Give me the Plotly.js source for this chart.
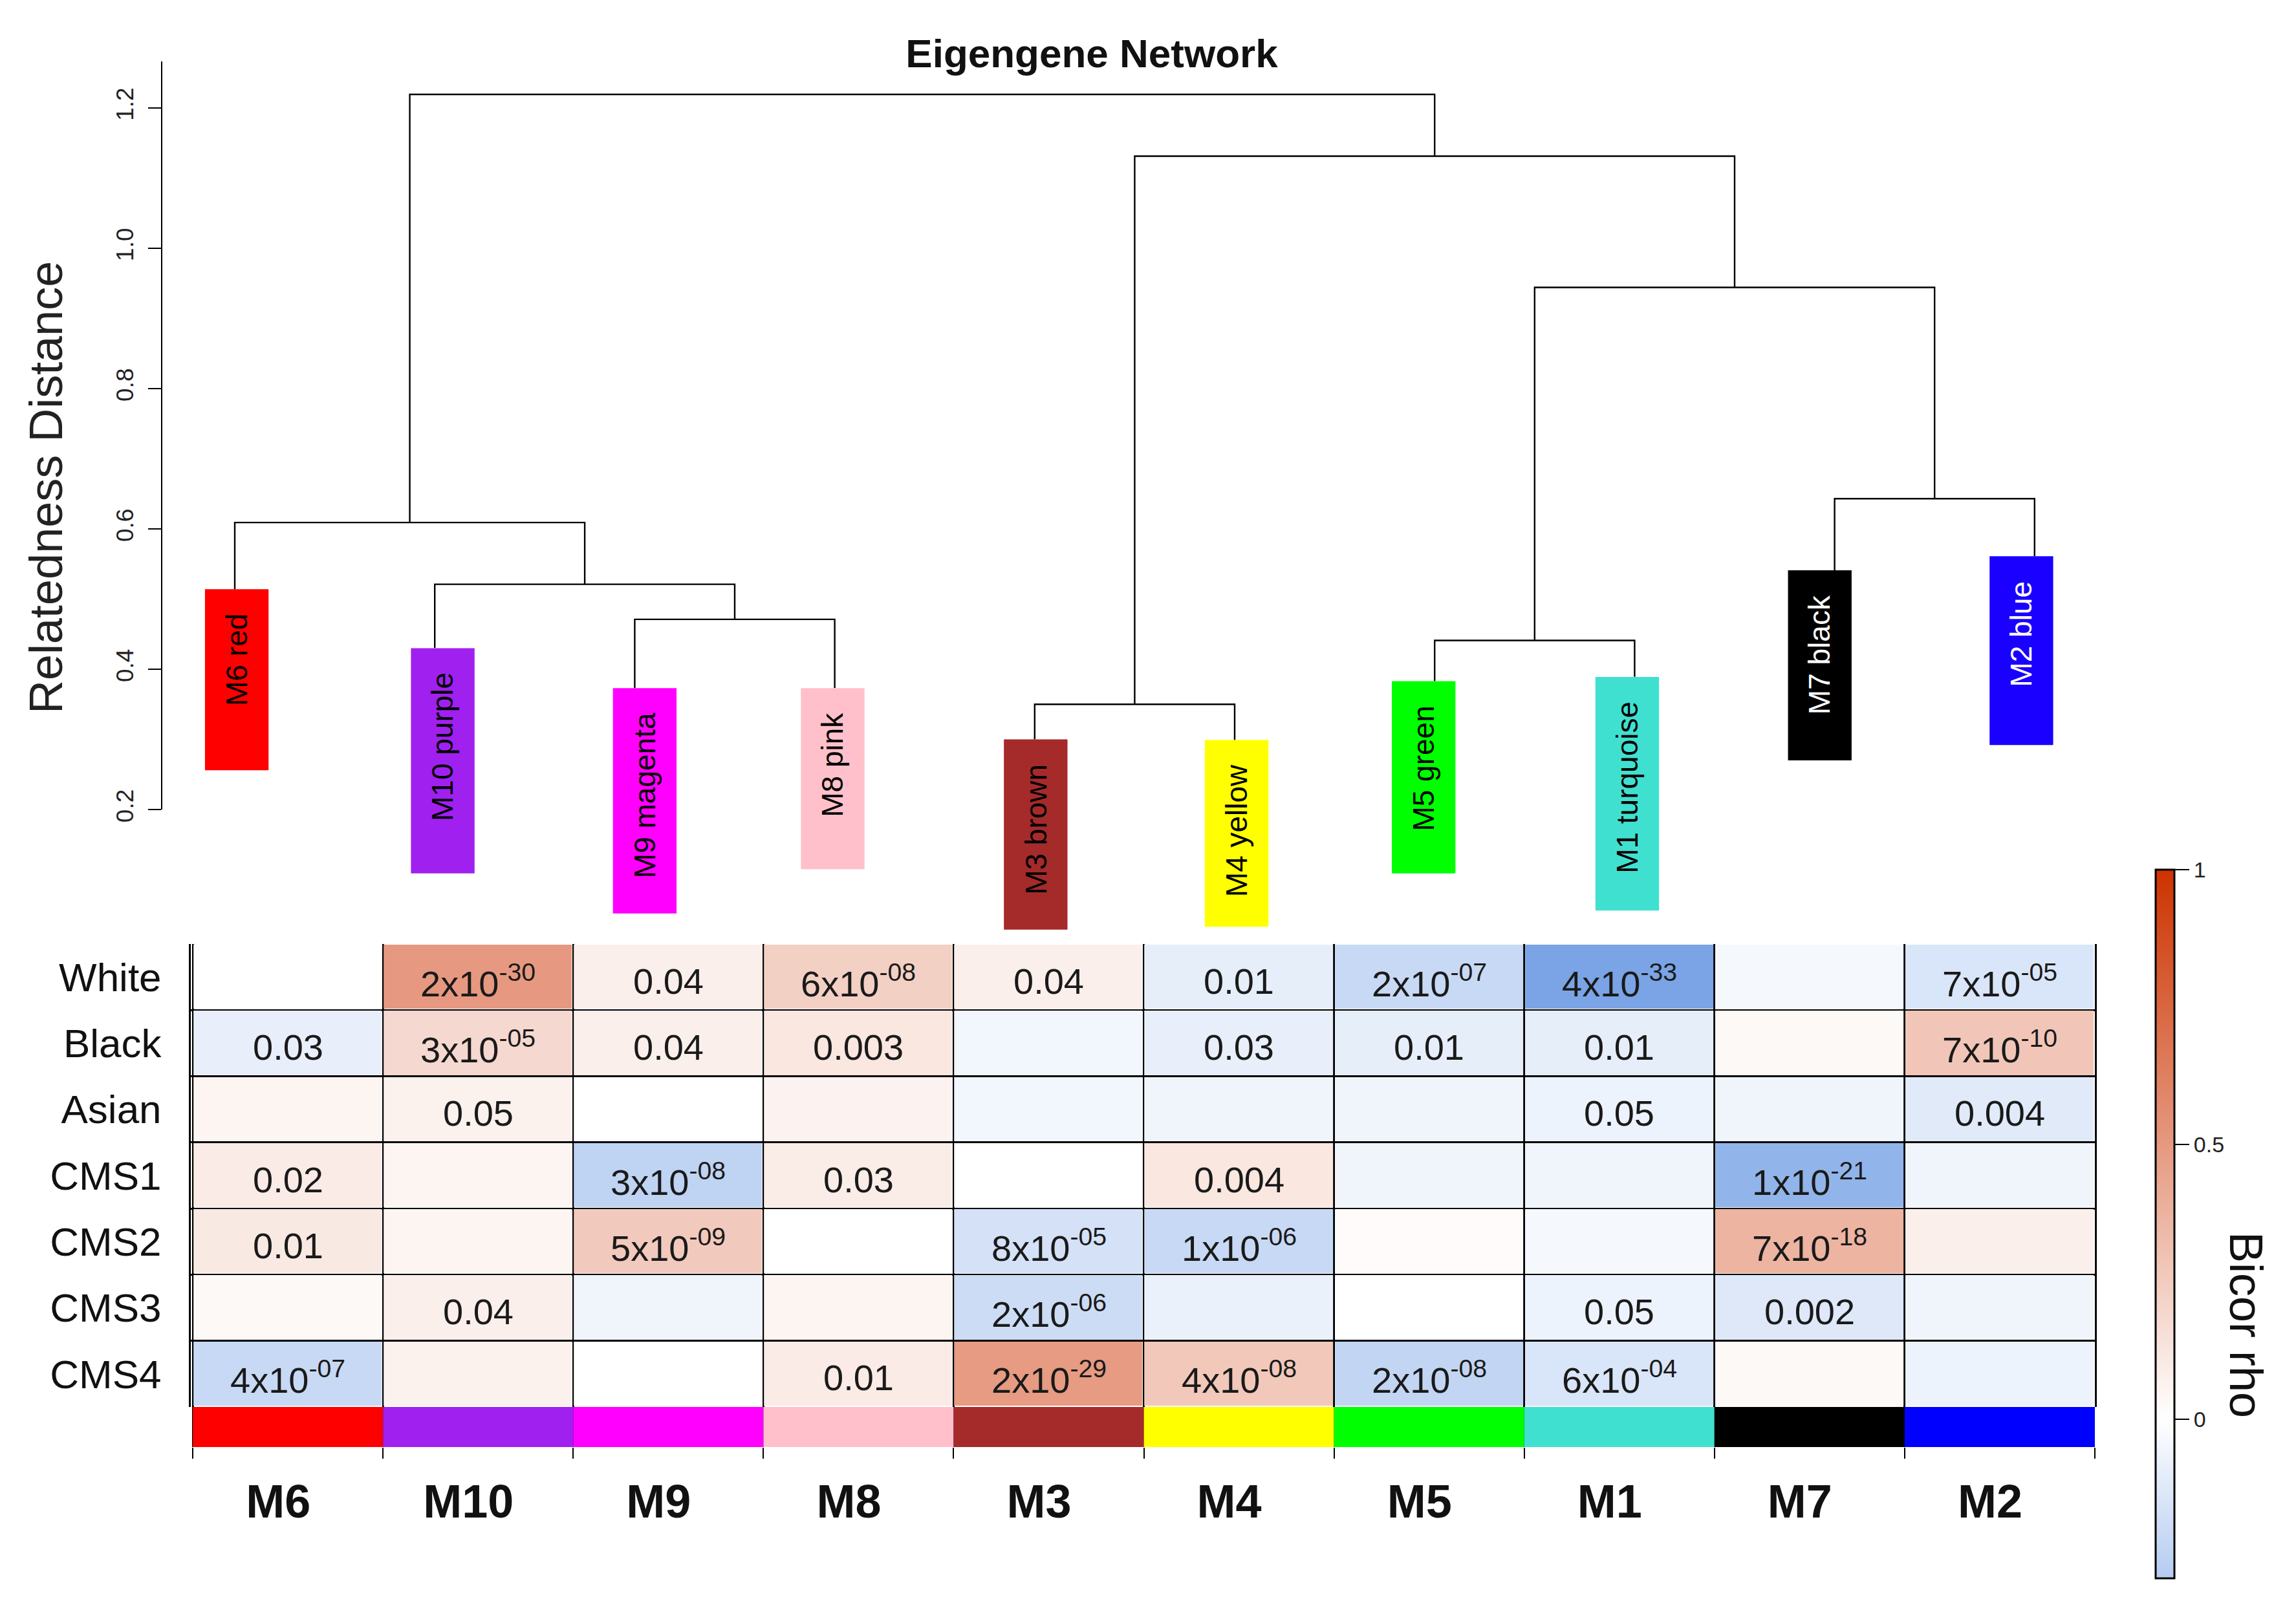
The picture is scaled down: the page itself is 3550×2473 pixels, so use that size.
<!DOCTYPE html>
<html><head><meta charset="utf-8">
<script src="https://cdn.plot.ly/plotly-3.0.1.min.js"></script>
<style>html,body{margin:0;padding:0;background:#fff}#chart{width:3550px;height:2473px}</style>
</head><body><div id="chart"></div>
<script>
// ---------------- DATA ----------------
const modules = ['M6','M10','M9','M8','M3','M4','M5','M1','M7','M2'];
const moduleNames = ['M6 red','M10 purple','M9 magenta','M8 pink','M3 brown','M4 yellow','M5 green','M1 turquoise','M7 black','M2 blue'];
const moduleColors = ['#FF0000','#A020F0','#FF00FF','#FFC0CB','#A52A2A','#FFFF00','#00FF00','#40E0D0','#000000','#1A00FF'];
const stripColors = ['#FF0000','#A020F0','#FF00FF','#FFC0CB','#A52A2A','#FFFF00','#00FF00','#40E0D0','#000000','#0000FF'];
const traits = ['White','Black','Asian','CMS1','CMS2','CMS3','CMS4'];

// dendrogram (hclust style): negative = leaf (1-based position in modules), positive = earlier merge (1-based)
const mergeA = [-3, -5, -7, -9, -2, -1, 3, 2, 6];
const mergeB = [-4, -6, -8, -10, 1, 5, 4, 7, 8];
const mergeHeight = [0.471, 0.350, 0.441, 0.643, 0.521, 0.609, 0.944, 1.131, 1.219];
// extent of the coloured label boxes (in distance units)
const boxTop    = [0.514, 0.430, 0.373, 0.373, 0.300, 0.299, 0.383, 0.389, 0.541, 0.561];
const boxBottom = [0.256, 0.109, 0.052, 0.115, 0.029, 0.033, 0.109, 0.056, 0.270, 0.292];
const distTicks = [0.2, 0.4, 0.6, 0.8, 1.0, 1.2];

// bicor rho (rows = traits, cols = modules)
const rhoWhite = [ 0.00,  0.50,  0.08,  0.23,  0.08, -0.10, -0.22, -0.52, -0.04, -0.15];
const rhoBlack = [-0.09,  0.19,  0.08,  0.12, -0.05, -0.09, -0.10, -0.10,  0.03,  0.28];
const rhoAsian = [ 0.05,  0.07,  0.00,  0.06, -0.05, -0.06, -0.06, -0.07, -0.06, -0.12];
const rhoCMS1  = [ 0.10,  0.05, -0.25,  0.09,  0.00,  0.12, -0.06, -0.06, -0.43, -0.06];
const rhoCMS2  = [ 0.11,  0.05,  0.26,  0.00, -0.17, -0.22,  0.02, -0.04,  0.37,  0.08];
const rhoCMS3  = [ 0.03,  0.08, -0.06,  0.05, -0.20, -0.08,  0.00, -0.07, -0.13, -0.06];
const rhoCMS4  = [-0.22,  0.07,  0.00,  0.10,  0.49,  0.27, -0.24, -0.15,  0.03, -0.07];

// p-values shown in the cells ('' = not shown)
const pWhite = ['', '2x10^-30', '0.04', '6x10^-08', '0.04', '0.01', '2x10^-07', '4x10^-33', '', '7x10^-05'];
const pBlack = ['0.03', '3x10^-05', '0.04', '0.003', '', '0.03', '0.01', '0.01', '', '7x10^-10'];
const pAsian = ['', '0.05', '', '', '', '', '', '0.05', '', '0.004'];
const pCMS1  = ['0.02', '', '3x10^-08', '0.03', '', '0.004', '', '', '1x10^-21', ''];
const pCMS2  = ['0.01', '', '5x10^-09', '', '8x10^-05', '1x10^-06', '', '', '7x10^-18', ''];
const pCMS3  = ['', '0.04', '', '', '2x10^-06', '', '', '0.05', '0.002', ''];
const pCMS4  = ['4x10^-07', '', '', '0.01', '2x10^-29', '4x10^-08', '2x10^-08', '6x10^-04', '', ''];

const cbTicks = [0, 0.5, 1];
const cbMin = -0.29;

// ---------------- STYLE ----------------
const W = 3550, H = 2473;
const FONT = 'Liberation Sans, Arial, Helvetica, sans-serif';
const px = v => v / W;
const py = v => 1 - v / H;
const BLUE_END = [0, 80, 205], WHITE = [255, 255, 255], RED_END = [204, 51, 0];
const boxDx = [0.01, 0.04, 0.05, -0.01, 0.005, 0.01, -0.055, -0.037, -0.074, -0.066];
const boxTextColor = ['#000','#000','#000','#000','#000','#000','#000','#000','#fff','#fff'];

function rgbStr(c){ return 'rgb(' + c.map(Math.round).join(',') + ')'; }
function colorAt(v){
  const t = Math.min(1, Math.abs(v));
  const end = v < 0 ? BLUE_END : RED_END;
  return rgbStr(WHITE.map((w, k) => w + (end[k] - w) * t));
}

// ---------------- DENDROGRAM GEOMETRY ----------------
const nodeX = [], nodeH = [];
function childPos(c){
  if (c < 0) return {x: -c - 1, h: boxTop[-c - 1]};
  return {x: nodeX[c - 1], h: nodeH[c - 1]};
}
const dx = [], dy = [];
for (let m = 0; m < mergeA.length; m++){
  const a = childPos(mergeA[m]), b = childPos(mergeB[m]);
  const h = mergeHeight[m];
  dx.push(a.x, a.x, b.x, b.x, null);
  dy.push(a.h, h, h, b.h, null);
  nodeX.push((a.x + b.x) / 2);
  nodeH.push(h);
}

const rho = [rhoWhite, rhoBlack, rhoAsian, rhoCMS1, rhoCMS2, rhoCMS3, rhoCMS4];
const pvals = [pWhite, pBlack, pAsian, pCMS1, pCMS2, pCMS3, pCMS4];

const traces = [];
traces.push({
  type: 'scatter', mode: 'lines', x: dx, y: dy, xaxis: 'x', yaxis: 'y',
  line: {color: '#000', width: 2.4}, hoverinfo: 'skip', showlegend: false
});
traces.push({
  type: 'bar', xaxis: 'x2', yaxis: 'y2',
  x: modules.map((m, i) => i + boxDx[i]),
  y: boxTop.map((t, i) => t - boxBottom[i]),
  base: boxBottom, width: 0.318,
  marker: {color: moduleColors, line: {width: 0}},
  hoverinfo: 'skip', showlegend: false
});
traces.push({
  type: 'heatmap', xaxis: 'x3', yaxis: 'y3',
  x: modules, y: traits, z: rho, zmin: -1, zmax: 1,
  colorscale: [[0, rgbStr(BLUE_END)], [0.5, rgbStr(WHITE)], [1, rgbStr(RED_END)]],
  xgap: 3, ygap: 3, showscale: false, hoverinfo: 'skip'
});
traces.push({
  type: 'bar', xaxis: 'x3', yaxis: 'y4',
  x: modules, y: modules.map(() => 1), width: 1,
  marker: {color: stripColors, line: {width: 0}},
  hoverinfo: 'skip', showlegend: false
});
const z0 = (0 - cbMin) / (1 - cbMin);
traces.push({
  type: 'scatter', mode: 'markers', xaxis: 'x3', yaxis: 'y3',
  x: [modules[0]], y: [traits[0]], hoverinfo: 'skip', showlegend: false,
  marker: {
    size: 1, opacity: 0, color: [0], cmin: cbMin, cmax: 1, showscale: true,
    colorscale: [[0, colorAt(cbMin)], [z0, rgbStr(WHITE)], [1, rgbStr(RED_END)]],
    colorbar: {
      x: px(3333), xanchor: 'left', xpad: 0, xref: 'paper',
      y: py(2441), yanchor: 'bottom', ypad: 0, yref: 'paper',
      len: (2441 - 1345) / H, lenmode: 'fraction', thickness: 29,
      outlinewidth: 3, outlinecolor: '#000',
      tickvals: cbTicks, ticktext: cbTicks.map(String),
      ticks: 'outside', ticklen: 22, tickwidth: 2, tickcolor: '#000',
      tickfont: {family: FONT, size: 34, color: '#222'},
      title: {text: ''}
    }
  }
});

// ---------------- ANNOTATIONS ----------------
const annotations = [];
modules.forEach((m, i) => {
  annotations.push({
    xref: 'x2', yref: 'y2', x: i + boxDx[i], y: boxTop[i], yshift: -36,
    xanchor: 'center', yanchor: 'top', textangle: -90, showarrow: false,
    text: moduleNames[i], font: {family: FONT, size: 46, color: boxTextColor[i]}
  });
});
function fmtP(s){
  const k = s.indexOf('^');
  return k < 0 ? s : s.slice(0, k) + '<sup>' + s.slice(k + 1) + '</sup>';
}
pvals.forEach((row, r) => row.forEach((s, c) => {
  if (!s) return;
  annotations.push({
    xref: 'x3', yref: 'y3', x: modules[c], y: traits[r], yshift: -6,
    showarrow: false, text: fmtP(s), font: {family: FONT, size: 56, color: '#1a1a1a'}
  });
}));
annotations.push({
  xref: 'paper', yref: 'paper', x: px(71), y: py(754), textangle: -90, showarrow: false,
  xanchor: 'center', yanchor: 'middle',
  text: 'Relatedness Distance', font: {family: FONT, size: 72, color: '#222'}
});
annotations.push({
  xref: 'paper', yref: 'paper', x: px(3473), y: py(2049), textangle: 90, showarrow: false,
  xanchor: 'center', yanchor: 'middle',
  text: 'Bicor rho', font: {family: FONT, size: 72, color: '#111'}
});

// ---------------- LAYOUT ----------------
const dendroX = {domain: [px(53.8), px(3455)], range: [-1, 10], visible: false, fixedrange: true};
const layout = {
  width: W, height: H, margin: {l: 0, r: 0, t: 0, b: 0},
  paper_bgcolor: '#fff', plot_bgcolor: 'rgba(0,0,0,0)', showlegend: false,
  font: {family: FONT, color: '#111'},
  title: {text: '<b>Eigengene Network</b>', x: px(1688), xanchor: 'center', xref: 'paper',
          y: py(82), yanchor: 'middle', yref: 'paper',
          font: {family: FONT, size: 62, color: '#111'}},
  xaxis: Object.assign({anchor: 'y'}, dendroX),
  yaxis: {domain: [py(1252), py(95)], range: [0.2, 1.266], anchor: 'free', position: px(250),
          showline: true, linecolor: '#000', linewidth: 2, ticks: 'outside', ticklen: 20,
          tickwidth: 2, tickcolor: '#000', tickvals: distTicks,
          ticktext: distTicks.map(v => v.toFixed(1)), tickangle: -90,
          tickfont: {family: FONT, size: 37, color: '#222'}, showgrid: false, zeroline: false,
          ticklabelstandoff: 8},
  xaxis2: Object.assign({anchor: 'y2'}, dendroX),
  yaxis2: {domain: [py(1469.1), py(817.9)], range: [0, 0.6], anchor: 'x2', visible: false},
  xaxis3: {domain: [px(295), px(3239)], anchor: 'y4', type: 'category',
           categoryorder: 'array', categoryarray: modules, tickson: 'boundaries',
           ticks: 'outside', ticklen: 17, tickwidth: 2, tickcolor: '#000',
           showgrid: true, gridcolor: '#000', gridwidth: 3, zeroline: false, showline: false,
           tickfont: {family: FONT, size: 72, color: '#111', weight: 'bold'},
           ticklabelstandoff: 36, ticklabelshift: -15},
  yaxis3: {domain: [py(2176), py(1460)], anchor: 'x3', type: 'category',
           categoryorder: 'array', categoryarray: traits, autorange: 'reversed',
           tickson: 'boundaries', ticks: '', showgrid: true, gridcolor: '#000', gridwidth: 3,
           showline: true, mirror: true, linecolor: '#000', linewidth: 3, zeroline: false,
           tickfont: {family: FONT, size: 62, color: '#111'}, ticklabelstandoff: 30},
  yaxis4: {domain: [py(2238), py(2176)], range: [0, 1], anchor: 'x3', visible: false},
  annotations: annotations
};

Plotly.newPlot('chart', traces, layout, {staticPlot: true, displayModeBar: false});
</script>
</body></html>
